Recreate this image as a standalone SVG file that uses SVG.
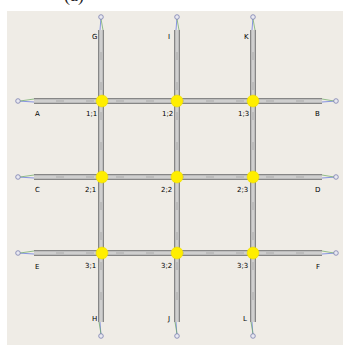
<svg xmlns="http://www.w3.org/2000/svg" width="343" height="345" viewBox="0 0 343 345">
<style>
.lbl{font-family:"DejaVu Sans",Verdana,sans-serif;font-size:7px;fill:#000}
.cap{font-family:"Liberation Serif","Times New Roman",serif;font-size:18px;fill:#222}
.r1{stroke:#868686;stroke-width:6;fill:none}
.r2{stroke:#bcbcbc;stroke-width:4;fill:none}
.r3{stroke:#ececec;stroke-width:0.8;fill:none;stroke-dasharray:22 8}
.bl{stroke:#5a6ee0;stroke-width:0.7;fill:none}
.gr{stroke:#6aa860;stroke-width:0.7;fill:none}
.end{fill:#e8e8f0;stroke:#7a7fb0;stroke-width:0.8}
.jn{fill:#ffee00;stroke:#e8d800;stroke-width:0.5}
</style>
<rect x="0" y="0" width="343" height="345" fill="#ffffff"/>
<text class="cap" x="64" y="1">(a)</text>
<rect x="7" y="11" width="336" height="334" fill="#efece6"/>
<g id="connectors">
  <g id="roads">
    <path class="r1" d="M34 101H322M34 177H322M34 253H322M101 30V322M177 30V322M253 30V322"/>
    <path class="r2" d="M34 101H322M34 177H322M34 253H322M101 30V322M177 30V322M253 30V322"/>
    <path class="r3" d="M34 101H322M34 177H322M34 253H322M101 30V322M177 30V322M253 30V322"/>
  </g>
  <g id="links">
    <path class="bl" d="M34 102L18 101M34 178L18 177M34 254L18 253M322 102L336 101M322 178L336 177M322 254L336 253M100 30L101 17M176 30L177 17M252 30L253 17M100 322L101 336M176 322L177 336M252 322L253 336"/>
    <path class="gr" d="M34 99L20 101M34 175L20 177M34 251L20 253M322 99L334 101M322 175L334 177M322 251L334 253M103 30L101 19M179 30L177 19M255 30L253 19M99 322L101 334M175 322L177 334M251 322L253 334"/>
  </g>
</g>
<g id="A"><circle class="end" cx="18" cy="101" r="2.3"/><text class="lbl" x="35" y="116">A</text></g>
<g id="B"><circle class="end" cx="336" cy="101" r="2.3"/><text class="lbl" x="315" y="116">B</text></g>
<g id="C"><circle class="end" cx="18" cy="177" r="2.3"/><text class="lbl" x="35" y="192">C</text></g>
<g id="D"><circle class="end" cx="336" cy="177" r="2.3"/><text class="lbl" x="315" y="192">D</text></g>
<g id="E"><circle class="end" cx="18" cy="253" r="2.3"/><text class="lbl" x="35" y="269">E</text></g>
<g id="F"><circle class="end" cx="336" cy="253" r="2.3"/><text class="lbl" x="316" y="269">F</text></g>
<g id="G"><circle class="end" cx="101" cy="17" r="2.3"/><text class="lbl" x="92" y="39">G</text></g>
<g id="I"><circle class="end" cx="177" cy="17" r="2.3"/><text class="lbl" x="168" y="39">I</text></g>
<g id="K"><circle class="end" cx="253" cy="17" r="2.3"/><text class="lbl" x="244" y="39">K</text></g>
<g id="H"><circle class="end" cx="101" cy="336" r="2.3"/><text class="lbl" x="92" y="321">H</text></g>
<g id="J"><circle class="end" cx="177" cy="336" r="2.3"/><text class="lbl" x="168" y="321">J</text></g>
<g id="L"><circle class="end" cx="253" cy="336" r="2.3"/><text class="lbl" x="243" y="321">L</text></g>
<g id="n11"><circle class="jn" cx="102" cy="101" r="6"/><text class="lbl" x="86" y="116">1;1</text></g>
<g id="n12"><circle class="jn" cx="177" cy="101" r="6"/><text class="lbl" x="162" y="116">1;2</text></g>
<g id="n13"><circle class="jn" cx="253" cy="101" r="6"/><text class="lbl" x="238" y="116">1;3</text></g>
<g id="n21"><circle class="jn" cx="102" cy="177" r="6"/><text class="lbl" x="85" y="192">2;1</text></g>
<g id="n22"><circle class="jn" cx="177" cy="177" r="6"/><text class="lbl" x="161" y="192">2;2</text></g>
<g id="n23"><circle class="jn" cx="253" cy="177" r="6"/><text class="lbl" x="237" y="192">2;3</text></g>
<g id="n31"><circle class="jn" cx="102" cy="253" r="6"/><text class="lbl" x="85" y="268">3;1</text></g>
<g id="n32"><circle class="jn" cx="177" cy="253" r="6"/><text class="lbl" x="161" y="268">3;2</text></g>
<g id="n33"><circle class="jn" cx="253" cy="253" r="6"/><text class="lbl" x="237" y="268">3;3</text></g>
</svg>
